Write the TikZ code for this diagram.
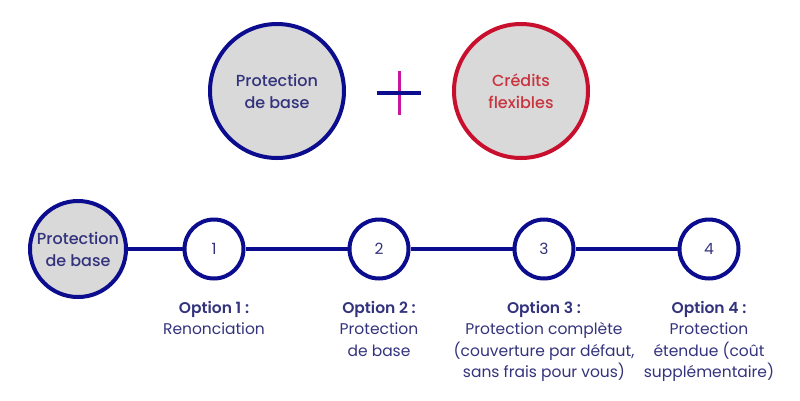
\documentclass[tikz,border=0pt]{standalone}
\usepackage{fontspec}
\setmainfont{Poppins}[BoldFont={Poppins SemiBold}]
\newfontfamily\moyen{Poppins Medium}
\usetikzlibrary{positioning}

\definecolor{bleuMarine}{HTML}{0C0C8E}
\definecolor{texteBleu}{HTML}{33337D}
\definecolor{rougeCredit}{HTML}{C8102E}
\definecolor{texteRouge}{HTML}{C9343F}
\definecolor{rosePlus}{HTML}{C8179C}
\definecolor{grisFond}{HTML}{D9D9D9}

\tikzset{
  grand/.style={circle, minimum size=134pt, inner sep=0pt, fill=grisFond, align=center,
                font=\moyen\fontsize{16}{22}\selectfont},
  petit/.style={circle, minimum size=59pt, inner sep=0pt, draw=bleuMarine, fill=white, text=texteBleu},
  etiquette/.style={align=center, inner sep=0pt, text=texteBleu}
}

\begin{document}
\begin{tikzpicture}[x=1pt, y=-1pt, line width=4pt, font=\fontsize{15.5}{21.5}\selectfont]
  \useasboundingbox (0,0) rectangle (800,400);

  % Cercles du haut
  \node[grand, draw=bleuMarine, text=texteBleu] (baseHaut) at (277,91) {Protection\\de base};
  \node[grand, draw=rougeCredit, text=texteRouge] (credits) at (521,91) {Crédits\\flexibles};

  % Signe plus
  \coordinate (plus) at (399,93);
  \draw[rosePlus, line width=3pt] ([yshift=22pt]plus) -- ([yshift=-22pt]plus);
  \draw[bleuMarine, line width=3.5pt] ([xshift=-22pt]plus) -- ([xshift=22pt]plus);

  % Ligne des options
  \node[circle, minimum size=96pt, inner sep=0pt, draw=bleuMarine, fill=grisFond,
        text=texteBleu, align=center, font=\moyen\fontsize{16}{22}\selectfont] (base) at (78,249) {Protection\\de base};
  \foreach \n/\x in {1/214, 2/379, 3/544, 4/709} {
    \node[petit] (o\n) at (\x,249) {\n};
  }
  \draw[bleuMarine] (base) -- (o1) -- (o2) -- (o3) -- (o4);

  % Textes sous les cercles
  \node[etiquette, anchor=north] (t1) at (214,299) {\textbf{Option 1 :}\\Renonciation};
  \node[etiquette, anchor=north] (t2) at (379,299) {\textbf{Option 2 :}\\Protection\\de base};
  \node[etiquette, anchor=north] (t3) at (544,299) {\textbf{Option 3 :}\\Protection complète\\(couverture par défaut,\\sans frais pour vous)};
  \node[etiquette, anchor=north] (t4) at (709,299) {\textbf{Option 4 :}\\Protection\\étendue (coût\\supplémentaire)};

\end{tikzpicture}
\end{document}
